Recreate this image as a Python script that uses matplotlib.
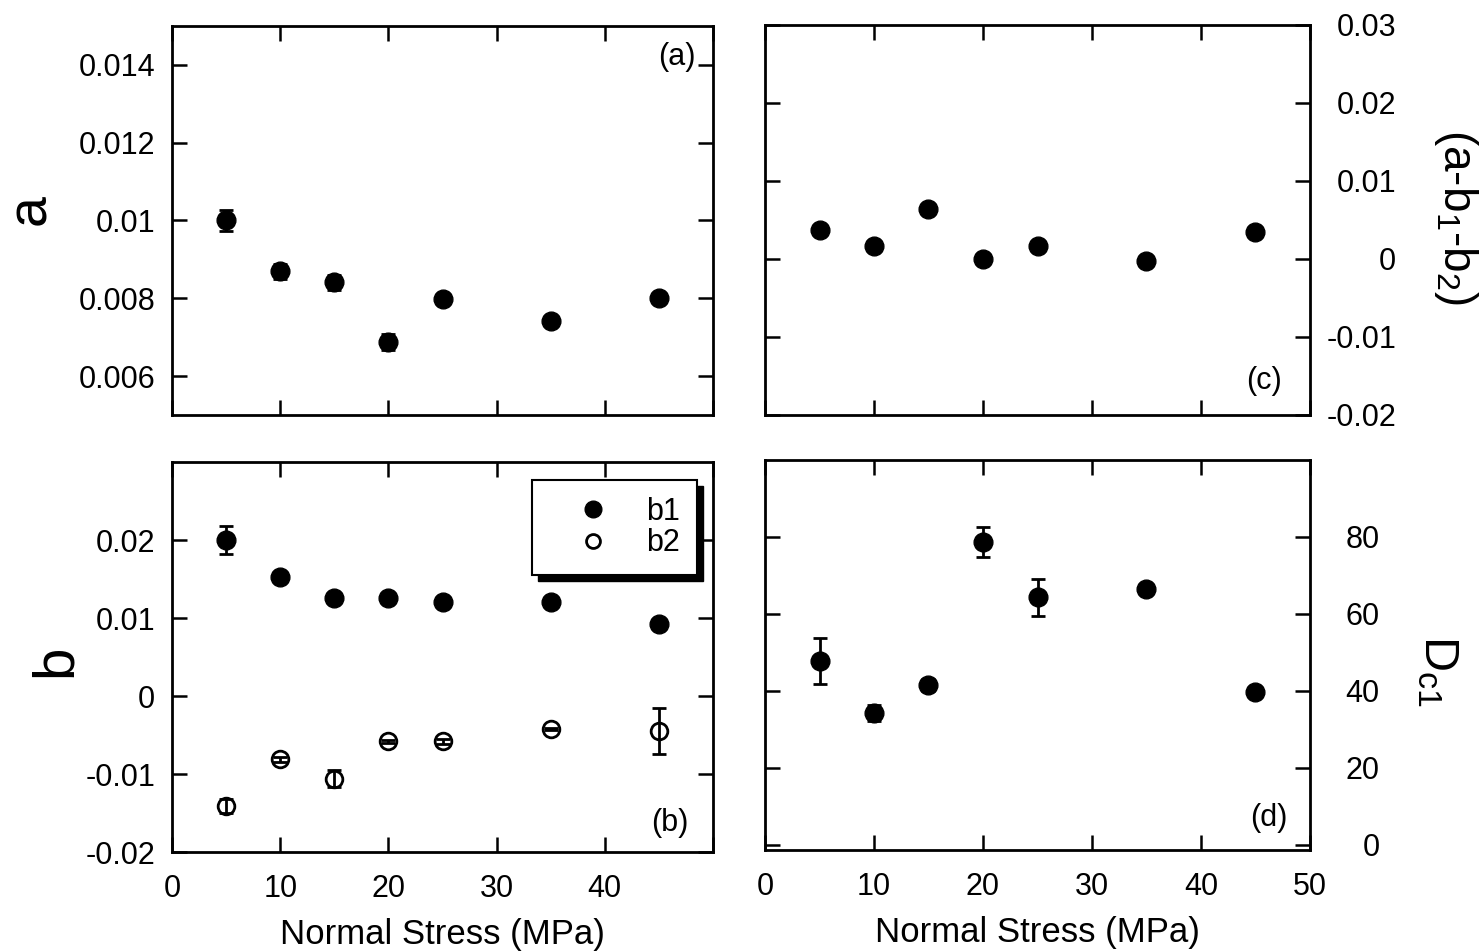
import matplotlib
matplotlib.use('Agg')
import matplotlib.pyplot as plt
from matplotlib.lines import Line2D
from matplotlib.patches import Rectangle

plt.rcParams['font.family'] = ['Liberation Sans', 'DejaVu Sans']
plt.rcParams['mathtext.default'] = 'regular'

# ---- data ----
stress = [5, 10, 15, 20, 25, 35, 45]
a_vals = [0.0100, 0.00869, 0.00841, 0.00688, 0.00799, 0.00741, 0.00800]
a_err = [0.00026, 0.0002, 0.0002, 0.0002, 0.0001, 0.0001, 0.0001]
b1_vals = [0.0200, 0.0153, 0.0126, 0.0126, 0.0121, 0.0121, 0.0092]
b1_err = [0.0018, 0.0003, 0.0003, 0.0003, 0.0003, 0.0003, 0.0003]
b2_vals = [-0.0141, -0.0081, -0.0106, -0.0058, -0.0058, -0.0042, -0.0045]
b2_err = [0.0009, 0.0003, 0.0011, 0.0002, 0.0003, 0.0001, 0.0029]
abb_vals = [0.0037, 0.0017, 0.0064, 0.0000, 0.0017, -0.0003, 0.0035]
dc1_vals = [47.8, 34.3, 41.6, 78.7, 64.4, 66.5, 39.7]
dc1_err = [6.0, 2.0, 1.5, 4.0, 4.8, 0.5, 0.5]

x_ticks = [0, 10, 20, 30, 40, 50]
a_ticks = [0.006, 0.008, 0.010, 0.012, 0.014]
a_ticklabels = ['0.006', '0.008', '0.01', '0.012', '0.014']
b_ticks = [-0.02, -0.01, 0.0, 0.01, 0.02]
b_ticklabels = ['-0.02', '-0.01', '0', '0.01', '0.02']
c_ticks = [-0.02, -0.01, 0.0, 0.01, 0.02, 0.03]
c_ticklabels = ['-0.02', '-0.01', '0', '0.01', '0.02', '0.03']
d_ticks = [0, 20, 40, 60, 80]
d_ticklabels = ['0', '20', '40', '60', '80']

W, H = 1481, 951
fig = plt.figure(figsize=(W / 100, H / 100), dpi=100)
axA = fig.add_axes([172 / W, 1 - 415 / H, 541 / W, 389 / H])
axB = fig.add_axes([172 / W, 1 - 852 / H, 541 / W, 390 / H])
axC = fig.add_axes([765 / W, 1 - 415 / H, 545 / W, 390 / H])
axD = fig.add_axes([765 / W, 1 - 850 / H, 545 / W, 390 / H])

TICK_FS = 22
for ax in (axA, axB, axC, axD):
    ax.set_xlim(0, 50)
    ax.set_xticks(x_ticks)
    for s in ax.spines.values():
        s.set_linewidth(2.0)
    ax.tick_params(direction='in', length=11, width=1.8, top=True, right=True,
                   left=True, bottom=True, labelsize=TICK_FS)

filled = dict(fmt='o', color='black', ms=13.5, capsize=5, elinewidth=2, capthick=2)
opened = dict(fmt='o', color='black', ms=12, mfc='none', mec='black', mew=2,
              capsize=5, elinewidth=2, capthick=2)

# (a)
axA.errorbar(stress, a_vals, yerr=a_err, **filled)
axA.set_ylim(0.005, 0.015)
axA.set_yticks(a_ticks)
axA.set_yticklabels(a_ticklabels)
axA.tick_params(axis='x', labelbottom=False)
axA.tick_params(axis='y', pad=12)
axA.set_ylabel('a', fontsize=40, rotation=90, ha='center', va='center')
axA.yaxis.set_label_coords(-0.261, 0.527)
axA.text(0.967, 0.92, '(a)', transform=axA.transAxes, ha='right', va='center', fontsize=22)

# (b)
axB.errorbar(stress, b1_vals, yerr=b1_err, **filled)
axB.errorbar(stress, b2_vals, yerr=b2_err, **opened)
axB.set_ylim(-0.02, 0.03)
axB.set_yticks(b_ticks)
axB.set_yticklabels(b_ticklabels)
axB.set_xticklabels(['0', '10', '20', '30', '40', ''])
axB.tick_params(axis='y', pad=12)
axB.tick_params(axis='x', pad=16)
axB.set_xlabel('Normal Stress (MPa)', fontsize=25, labelpad=10)
axB.set_ylabel('b', fontsize=42, rotation=90, ha='center', va='center')
axB.yaxis.set_label_coords(-0.215, 0.49)
axB.text(0.954, 0.074, '(b)', transform=axB.transAxes, ha='right', va='center', fontsize=22)

handles = [Line2D([], [], ls='none', marker='o', color='black', ms=12),
           Line2D([], [], ls='none', marker='o', mfc='none', mec='black', mew=2, ms=10)]
leg = axB.legend(handles, ['b1', 'b2'], loc='upper right', bbox_to_anchor=(0.97, 0.954),
                 borderaxespad=0, fontsize=22, frameon=True, fancybox=False,
                 borderpad=0.55, handlelength=2.9, handletextpad=0.3, labelspacing=0.05)
leg.get_frame().set_edgecolor('black')
leg.get_frame().set_linewidth(1.5)
leg.get_frame().set_alpha(1)
leg.set_zorder(6)

# (c)
axC.plot(stress, abb_vals, 'o', color='black', ms=13.5)
axC.set_ylim(-0.02, 0.03)
axC.set_yticks(c_ticks)
axC.set_yticklabels(c_ticklabels)
axC.tick_params(axis='x', labelbottom=False)
axC.tick_params(axis='y', labelleft=False, labelright=True, pad=62)
for lab in axC.get_yticklabels():
    lab.set_horizontalalignment('right')
axC.yaxis.set_label_position('right')
axC.set_ylabel('(a-b$_1$-b$_2$)', fontsize=33, rotation=270, ha='center', va='center')
axC.yaxis.set_label_coords(1.268, 0.508)
axC.text(0.949, 0.087, '(c)', transform=axC.transAxes, ha='right', va='center', fontsize=22)

# (d)
axD.errorbar(stress, dc1_vals, yerr=dc1_err, **filled)
axD.set_ylim(-1.3, 100)
axD.set_yticks(d_ticks)
axD.set_yticklabels(d_ticklabels)
axD.tick_params(axis='y', labelleft=False, labelright=True, pad=50)
for lab in axD.get_yticklabels():
    lab.set_horizontalalignment('right')
axD.tick_params(axis='x', pad=16)
axD.set_xlabel('Normal Stress (MPa)', fontsize=25, labelpad=10)
axD.yaxis.set_label_position('right')
axD.set_ylabel('D$_{c1}$', fontsize=35, rotation=270, ha='center', va='center')
axD.yaxis.set_label_coords(1.233, 0.46)
axD.text(0.958, 0.082, '(d)', transform=axD.transAxes, ha='right', va='center', fontsize=22)

# legend drop shadow (offset black box)
fig.canvas.draw()
bb = leg.get_window_extent()
off = 6
inv = axB.transAxes.inverted()
(x0, y0), (x1, y1) = inv.transform([(bb.x0 + off, bb.y0 - off), (bb.x1 + off, bb.y1 - off)])
axB.add_patch(Rectangle((x0, y0), x1 - x0, y1 - y0, transform=axB.transAxes,
                        facecolor='black', edgecolor='black', zorder=5.5, clip_on=False))

fig.savefig('out.png', dpi=100)
